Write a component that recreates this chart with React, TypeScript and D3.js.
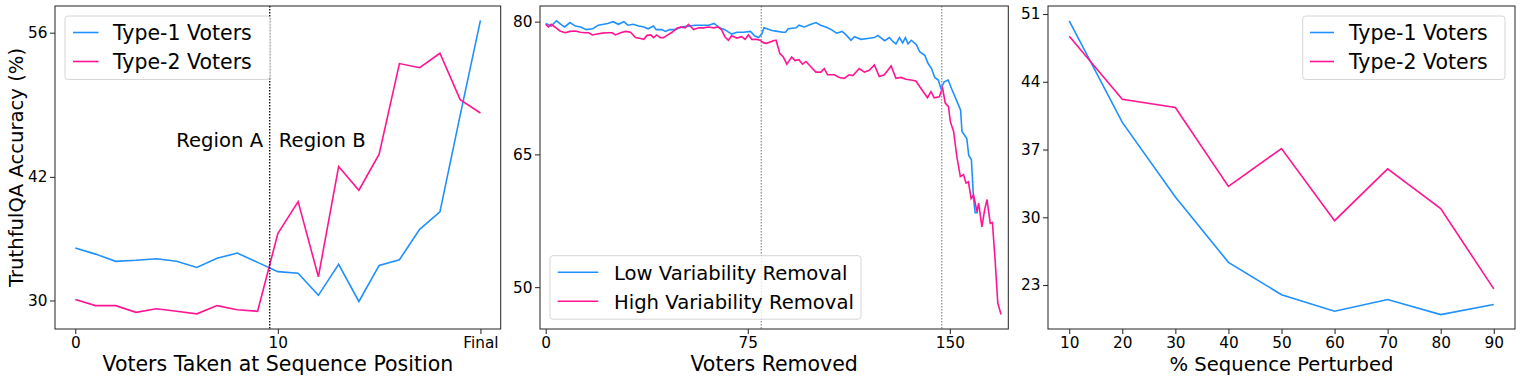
import { useEffect, useRef } from 'react';
import * as d3 from 'd3';

const BLUE = '#1e90ff';
const PINK = '#ff1493';
const FONT = 'DejaVu Sans, Verdana, sans-serif';

// Panel 1: accuracy by sequence position
const seqPositions = [0, 1, 2, 3, 4, 5, 6, 7, 8, 9, 10, 11, 12, 13, 14, 15, 16, 17, 18, 19, 20];
const type1BySeq = [35.1, 34.5, 33.8, 33.9, 34.05, 33.8, 33.2, 34.1, 34.6, 33.7, 32.8, 32.65, 30.5, 33.5, 29.9, 33.4, 33.95, 36.9, 38.6, 48.0, 57.2];
const type2BySeq = [30.1, 29.5, 29.5, 28.85, 29.2, 28.95, 28.7, 29.5, 29.1, 28.95, 36.5, 39.6, 32.3, 43.0, 40.7, 44.2, 53.0, 52.6, 54.0, 49.5, 48.2];
const seqTicks = [0, 10, 20];
const seqTickLabels = ['0', '10', 'Final'];
const seqYTicks = [30, 42, 56];

// Panel 2: accuracy as voters are removed
const lowRemoved = [0, 2, 4, 6, 7, 9, 11, 13, 15, 17.5, 19.5, 21.5, 23, 25, 27, 29, 30.5, 32.5, 34.5, 36.5, 38, 40, 41, 43, 44.5, 46, 48, 50.5, 53, 55.5, 58, 60.5, 62.5, 64.5, 66.5, 69, 71, 73.5, 76, 77.5, 79, 80.2, 81, 84, 86, 88, 89, 90, 93, 94, 96, 98.5, 100.3, 102, 104, 106, 108, 110, 111.5, 113.3, 114.6, 117, 119.5, 122, 123.3, 125.8, 127.6, 129, 130, 131.3, 132.5, 133.5, 134.5, 135.7, 137.6, 138.8, 140.7, 141.9, 143.2, 144.4, 145.7, 146.7, 147.9, 149.4, 150.6, 152.5, 154, 154.5, 156.3, 157, 158, 158.8, 159.4, 160.4];
const lowAcc = [79.8, 79.5, 80.1, 79.6, 79.4, 79.9, 79.5, 79.4, 79.1, 79.2, 79.6, 79.7, 79.8, 80.0, 79.7, 80.0, 79.6, 79.7, 79.5, 79.4, 79.2, 79.5, 79.1, 79.1, 78.9, 79.1, 79.1, 79.4, 79.5, 79.6, 79.6, 79.6, 79.8, 79.3, 79.1, 78.6, 78.8, 78.8, 78.9, 78.4, 78.2, 78.6, 79.3, 79.0, 78.9, 78.8, 78.8, 79.2, 79.3, 79.6, 79.4, 79.7, 79.9, 79.6, 79.4, 79.1, 78.7, 78.9, 78.5, 77.9, 78.3, 78.0, 78.1, 78.2, 78.45, 77.85, 78.2, 77.7, 77.5, 78.2, 77.6, 78.2, 77.5, 77.9, 77.4, 76.6, 76.2, 75.3, 74.7, 73.7, 73.4, 72.45, 73.2, 73.4, 72.45, 71.1, 70.0, 67.6, 66.8, 64.9, 64.4, 60.0, 58.4, 58.4];
const highRemoved = [0, 1, 2, 3.4, 5.3, 7.2, 9, 11, 12.8, 14.6, 16, 17.3, 19.1, 21, 22.8, 24.7, 25.9, 27.8, 29.6, 31.5, 33.3, 35.2, 36.4, 37.6, 39, 40, 41.2, 42.5, 43.7, 45, 46.9, 48.7, 50, 51.8, 53, 54.9, 56.8, 58.6, 60.5, 62.4, 64, 65.3, 66.5, 67.8, 69, 70.9, 72.7, 74, 75.2, 76.5, 78.3, 79.6, 81, 82, 84.5, 85.5, 86.9, 88.2, 89.5, 91.3, 92.5, 94, 95.3, 96.6, 98.4, 100.3, 102.1, 103.4, 104.6, 107.1, 109, 110.8, 112.6, 114, 116.4, 118.3, 120.1, 122, 123.8, 125.7, 128.2, 130, 131.9, 133.7, 135.6, 137.4, 139.3, 141.7, 143, 144.2, 146.1, 147.3, 148.3, 149.5, 150.2, 151.4, 152.6, 153.9, 155.1, 156, 156.9, 157.9, 158.8, 160.1, 160.7, 161.9, 162.9, 163.8, 165, 165.8, 166.8, 167.8, 169];
const highAcc = [79.7, 79.4, 79.7, 79.4, 78.95, 78.75, 78.9, 78.95, 78.8, 78.75, 78.75, 78.5, 78.6, 78.7, 78.75, 78.75, 78.5, 78.75, 78.9, 78.8, 78.2, 78.1, 78.0, 78.45, 78.5, 78.2, 78.5, 78.2, 78.2, 78.45, 78.8, 79.25, 79.4, 79.3, 79.7, 79.1, 79.3, 79.3, 79.4, 79.3, 79.4, 79.06, 78.3, 77.9, 78.4, 78.15, 78.3, 78.0, 78.5, 78.0, 78.0, 77.9, 77.6, 77.55, 77.85, 77.9, 76.4, 76.0, 75.2, 76.0, 75.6, 75.7, 75.2, 75.5, 74.9, 74.3, 74.3, 74.7, 74.0, 74.0, 73.7, 73.6, 74.0, 73.9, 74.7, 74.3, 74.5, 75.1, 73.8, 74.0, 75.0, 73.6, 73.7, 73.5, 73.4, 73.3, 72.45, 71.4, 72.1, 71.4, 71.5, 72.5, 70.8, 70.4, 68.7, 67.6, 64.75, 62.5, 62.7, 61.75, 61.9, 60.0, 60.4, 58.5, 59.5, 56.8, 58.7, 59.9, 57.2, 57.3, 53.1, 48.2, 46.9];
const removedTicks = [0, 75, 150];
const removedYTicks = [50, 65, 80];
const removedMarkers = [80, 147];

// Panel 3: accuracy vs % perturbed
const perturbed = [10, 20, 30, 40, 50, 60, 70, 80, 90];
const type1ByPerturb = [50.3, 39.8, 32.1, 25.35, 22.0, 20.3, 21.5, 19.95, 21.0];
const type2ByPerturb = [48.7, 42.2, 41.35, 33.2, 37.1, 29.65, 35.0, 30.9, 22.6];
const perturbYTicks = [23, 30, 37, 44, 51];

type Box = { left: number; right: number; top: number; bottom: number };

function makePanel(svg: any, id: string, box: Box, xDomain: number[], yDomain: number[]) {
  const x = d3.scaleLinear().domain(xDomain).range([box.left, box.right]);
  const y = d3.scaleLinear().domain(yDomain).range([box.bottom, box.top]);
  svg.append('clipPath').attr('id', id)
    .append('rect')
    .attr('x', box.left).attr('y', box.top)
    .attr('width', box.right - box.left).attr('height', box.bottom - box.top);
  const plot = svg.append('g').attr('clip-path', `url(#${id})`);
  return { x, y, plot };
}

function drawAxes(svg: any, box: Box, x: any, y: any, xTicks: number[], xFmt: (d: number, i: number) => string, yTicks: number[]) {
  const xa = svg.append('g')
    .attr('transform', `translate(0,${box.bottom})`)
    .call(d3.axisBottom(x).tickValues(xTicks).tickFormat(xFmt as any).tickSize(5).tickSizeOuter(0).tickPadding(3.5));
  const ya = svg.append('g')
    .attr('transform', `translate(${box.left},0)`)
    .call(d3.axisLeft(y).tickValues(yTicks).tickFormat(d3.format('d')).tickSize(5).tickSizeOuter(0).tickPadding(2.5));
  [xa, ya].forEach((a) => {
    a.select('.domain').remove();
    a.selectAll('line').attr('stroke', '#222').attr('stroke-width', 1);
    a.selectAll('text').attr('font-size', 15.3).attr('font-family', FONT).attr('fill', '#000');
  });
  svg.append('rect')
    .attr('x', box.left).attr('y', box.top)
    .attr('width', box.right - box.left).attr('height', box.bottom - box.top)
    .attr('fill', 'none').attr('stroke', '#222').attr('stroke-width', 1);
}

function drawLegend(svg: any, bx: number, by: number, bw: number, lineX0: number, lineX1: number, textX: number, size: number, rows: { label: string; color: string }[]) {
  const g = svg.append('g');
  g.append('rect')
    .attr('x', bx).attr('y', by).attr('width', bw).attr('height', 63.5)
    .attr('rx', 3).attr('fill', '#fff').attr('fill-opacity', 0.8)
    .attr('stroke', '#d6d6d6').attr('stroke-width', 1);
  rows.forEach((r, i) => {
    const cy = by + 16.5 + i * 29;
    g.append('line').attr('x1', lineX0).attr('x2', lineX1).attr('y1', cy).attr('y2', cy)
      .attr('stroke', r.color).attr('stroke-width', 1.6);
    g.append('text').attr('x', textX).attr('y', cy + 7.3)
      .attr('font-size', size).attr('font-family', FONT).attr('fill', '#000')
      .text(r.label);
  });
}

function xLabel(svg: any, box: Box, text: string, size: number) {
  svg.append('text')
    .attr('x', (box.left + box.right) / 2).attr('y', 371)
    .attr('text-anchor', 'middle').attr('font-size', size).attr('font-family', FONT)
    .text(text);
}

function App() {
  const svgRef = useRef<SVGSVGElement>(null);

  useEffect(() => {
    if (!svgRef.current) return;
    const svg = d3.select(svgRef.current);
    svg.selectAll('*').remove();

    const line = (xs: number[], ys: number[], x: any, y: any) =>
      d3.line<number>().x((_, i) => x(xs[i])).y((d) => y(d))(ys);

    // ---- panel 1
    const b1 = { left: 55, right: 500.7, top: 6, bottom: 329 };
    const p1 = makePanel(svg, 'clip1', b1, [-1, 21], [27.23, 58.59]);
    p1.plot.append('path').attr('d', line(seqPositions, type1BySeq, p1.x, p1.y))
      .attr('fill', 'none').attr('stroke', BLUE).attr('stroke-width', 1.6);
    p1.plot.append('path').attr('d', line(seqPositions, type2BySeq, p1.x, p1.y))
      .attr('fill', 'none').attr('stroke', PINK).attr('stroke-width', 1.6);
    p1.plot.append('line')
      .attr('x1', p1.x(9.6)).attr('x2', p1.x(9.6)).attr('y1', b1.top).attr('y2', b1.bottom)
      .attr('stroke', '#000').attr('stroke-width', 1.3).attr('stroke-dasharray', '1.4,1.6');
    svg.append('text').attr('x', p1.x(9.27)).attr('y', 146.5).attr('text-anchor', 'end')
      .attr('font-size', 19.6).attr('font-family', FONT).text('Region A');
    svg.append('text').attr('x', p1.x(10.05)).attr('y', 146.5)
      .attr('font-size', 19.6).attr('font-family', FONT).text('Region B');
    drawAxes(svg, b1, p1.x, p1.y, seqTicks, (_d, i) => seqTickLabels[i], seqYTicks);
    drawLegend(svg, 65, 16, 205, 73, 98.5, 113, 20.5, [
      { label: 'Type-1 Voters', color: BLUE },
      { label: 'Type-2 Voters', color: PINK },
    ]);
    xLabel(svg, b1, 'Voters Taken at Sequence Position', 20.5);
    svg.append('text')
      .attr('transform', `translate(23,${(b1.top + b1.bottom) / 2}) rotate(-90)`)
      .attr('text-anchor', 'middle').attr('font-size', 19.6).attr('font-family', FONT)
      .text('TruthfulQA Accuracy (%)');

    // ---- panel 2
    const b2 = { left: 540, right: 1008.3, top: 6, bottom: 329 };
    const p2 = makePanel(svg, 'clip2', b2, [-2.12, 171.7], [45.27, 81.77]);
    p2.plot.append('path').attr('d', line(lowRemoved, lowAcc, p2.x, p2.y))
      .attr('fill', 'none').attr('stroke', BLUE).attr('stroke-width', 1.6);
    p2.plot.append('path').attr('d', line(highRemoved, highAcc, p2.x, p2.y))
      .attr('fill', 'none').attr('stroke', PINK).attr('stroke-width', 1.6);
    removedMarkers.forEach((m) => {
      p2.plot.append('line')
        .attr('x1', p2.x(m)).attr('x2', p2.x(m)).attr('y1', b2.top).attr('y2', b2.bottom)
        .attr('stroke', '#888').attr('stroke-width', 1.2).attr('stroke-dasharray', '1.4,1.6');
    });
    drawAxes(svg, b2, p2.x, p2.y, removedTicks, (d) => String(d), removedYTicks);
    drawLegend(svg, 550, 255.7, 311, 557.7, 598.3, 614, 19.6, [
      { label: 'Low Variability Removal', color: BLUE },
      { label: 'High Variability Removal', color: PINK },
    ]);
    xLabel(svg, b2, 'Voters Removed', 20.5);

    // ---- panel 3
    const b3 = { left: 1048, right: 1515, top: 6, bottom: 329 };
    const p3 = makePanel(svg, 'clip3', b3, [6, 94], [18.46, 51.83]);
    p3.plot.append('path').attr('d', line(perturbed, type1ByPerturb, p3.x, p3.y))
      .attr('fill', 'none').attr('stroke', BLUE).attr('stroke-width', 1.6);
    p3.plot.append('path').attr('d', line(perturbed, type2ByPerturb, p3.x, p3.y))
      .attr('fill', 'none').attr('stroke', PINK).attr('stroke-width', 1.6);
    drawAxes(svg, b3, p3.x, p3.y, perturbed, (d) => String(d), perturbYTicks);
    drawLegend(svg, 1302.7, 16, 202.3, 1310, 1334, 1349, 20.5, [
      { label: 'Type-1 Voters', color: BLUE },
      { label: 'Type-2 Voters', color: PINK },
    ]);
    xLabel(svg, b3, '% Sequence Perturbed', 19.6);
  }, []);

  return (
    <svg
      ref={svgRef}
      width={1522}
      height={388}
      style={{ position: 'absolute', left: 0, top: 0, background: '#fff' }}
    />
  );
}

export default App;
